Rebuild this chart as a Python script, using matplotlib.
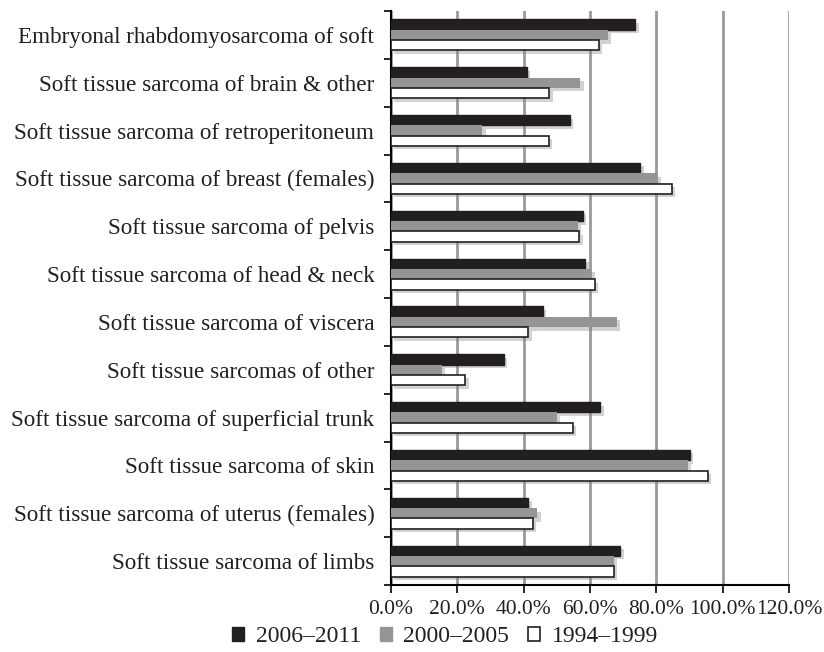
import matplotlib
matplotlib.use('Agg')
import matplotlib.pyplot as plt
import matplotlib.patheffects as pe
from matplotlib.patches import Patch
import numpy as np

categorias = [
    'Embryonal rhabdomyosarcoma of soft',
    'Soft tissue sarcoma of brain & other',
    'Soft tissue sarcoma of retroperitoneum',
    'Soft tissue sarcoma of breast (females)',
    'Soft tissue sarcoma of pelvis',
    'Soft tissue sarcoma of head & neck',
    'Soft tissue sarcoma of viscera',
    'Soft tissue sarcomas of other',
    'Soft tissue sarcoma of superficial trunk',
    'Soft tissue sarcoma of skin',
    'Soft tissue sarcoma of uterus (females)',
    'Soft tissue sarcoma of limbs',
]
p2006 = [73.7, 40.9, 53.9, 75.2, 57.8, 58.6, 45.7, 34.0, 63.1, 90.0, 41.4, 69.1]
p2000 = [65.4, 57.1, 27.5, 80.5, 56.3, 60.4, 68.1, 15.3, 50.0, 89.4, 44.1, 67.1]
p1994 = [62.7, 47.7, 47.6, 84.6, 56.7, 61.5, 41.4, 22.4, 54.8, 95.5, 42.8, 67.2]
series = ['2006\u20132011', '2000\u20132005', '1994\u20131999']

plt.rcParams['font.family'] = ['Liberation Serif', 'DejaVu Serif']

fig = plt.figure(figsize=(8.24, 6.52), dpi=100)
ax = fig.add_axes([391/824, 1 - 585/652, (789 - 391)/824, (585 - 11)/652])

y = np.arange(len(categorias))
h = 0.215
# sombra leve nas barras
sombra = [pe.SimplePatchShadow(offset=(2.5, -2.5), shadow_rgbFace='gray', alpha=0.35), pe.Normal()]

b1 = ax.barh(y - h, p2006, height=h, color='#231f20', edgecolor='#231f20', linewidth=1, zorder=3)
b2 = ax.barh(y, p2000, height=h, color='#939598', edgecolor='#939598', linewidth=0, zorder=3)
b3 = ax.barh(y + h, p1994, height=h, color='white', edgecolor='#231f20', linewidth=1.2, zorder=3)
for barras in (b1, b2, b3):
    for b in barras:
        b.set_path_effects(sombra)

ax.set_ylim(len(categorias) - 0.5, -0.5)
ax.set_xlim(0, 120)
ax.set_xticks(np.arange(0, 121, 20))
ax.set_xticklabels(['%.1f%%' % v for v in np.arange(0, 121, 20)], fontsize=15.5, color='#231f20')

ax.set_yticks(np.arange(-0.5, len(categorias), 1))
ax.set_yticklabels([])
ax.set_yticks(y, minor=True)
ax.set_yticklabels(categorias, minor=True, fontsize=16.7, color='#231f20')
ax.tick_params(axis='y', which='minor', length=0, pad=12)
ax.tick_params(axis='y', which='major', length=5, width=1.2, direction='out')
ax.tick_params(axis='x', length=6, width=1.2, direction='out', pad=5)

ax.grid(axis='x', color='#999999', linewidth=2, zorder=0)
ax.set_axisbelow(True)
for s in ['top', 'right']:
    ax.spines[s].set_visible(False)
ax.spines['left'].set_linewidth(1.5)
ax.spines['bottom'].set_linewidth(1.5)

handles = [Patch(facecolor='#231f20', edgecolor='#231f20'),
           Patch(facecolor='#939598', edgecolor='#939598'),
           Patch(facecolor='white', edgecolor='#231f20', linewidth=1.2)]
fig.legend(handles=handles, labels=series, loc='center', bbox_to_anchor=(445/824, 1 - 637/652),
           ncol=3, frameon=False, fontsize=17, handlelength=0.5, handleheight=0.5,
           handletextpad=0.5, columnspacing=0.8, labelcolor='#231f20')

fig.savefig('out.png', dpi=100)
